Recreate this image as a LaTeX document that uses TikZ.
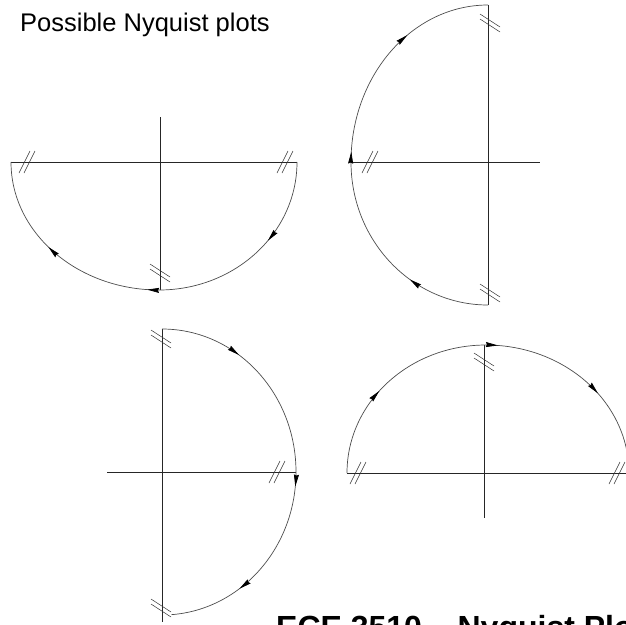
\documentclass[tikz,border=0pt]{standalone}
\usepackage{fontspec}
\setmainfont{Liberation Sans}
\usetikzlibrary{arrows.meta,decorations.markings}
\tikzset{
  axis/.style={draw=black!85, line width=0.7pt},
  curve/.style={draw=black!70, line width=0.7pt},
  brk/.style={draw=black!80, line width=0.5pt},
  dirat/.style={postaction={decorate, decoration={markings,
      mark=at position #1 with {\arrow[black]{Stealth[length=12pt,width=5pt,inset=1pt]}}}}},
  hbreak/.pic={\draw[brk] (-8,-11) -- (3,11); \draw[brk] (-3,-11) -- (8,11);},
  vbreak/.pic={\draw[brk] (-10,9) -- (10,-4); \draw[brk] (-10,4) -- (10,-9);},
  title/.style={font=\fontsize{25.5}{30}\selectfont, anchor=base west, inner sep=0pt},
  footer/.style={font=\bfseries\fontsize{32}{38}\selectfont, anchor=base west, inner sep=0pt}
}
\begin{document}
\begin{tikzpicture}[x=1pt, y=1pt]
\clip (0,0) rectangle (626,-624);
\node[title] (head) at (20,-31) {Possible Nyquist plots};
\node[footer] (foot) at (276,-638) {ECE 3510 -- Nyquist Plots};

% upper left
\coordinate (r1) at (297,-162);
\coordinate (l1) at (11,-162);
\draw[axis] (l1) -- (r1);
\draw[axis] (160,-117) -- (160,-290);
\draw[curve, dirat=0.41] (r1) arc[start angle=0, end angle=-90, x radius=138, y radius=128] coordinate (b1);
\draw[curve, dirat=0.055, dirat=0.56] (b1) arc[start angle=270, end angle=180, x radius=148, y radius=128];
\pic at (27,-162) {hbreak};
\pic at (285,-162) {hbreak};
\pic at (160,-273) {vbreak};

% upper right
\coordinate (t2) at (488,-5);
\coordinate (b2) at (488,-305);
\draw[axis] (t2) -- (b2);
\draw[axis] (351,-162) -- (540,-162);
\draw[curve, dirat=0.38] (b2) arc[start angle=270, end angle=180, x radius=137, y radius=143] coordinate (l2);
\draw[curve, dirat=0.045, dirat=0.62] (l2) arc[start angle=180, end angle=90, x radius=137, y radius=157];
\pic at (490,-23) {vbreak};
\pic at (490,-293) {vbreak};
\pic at (370,-162) {hbreak};

% lower left
\coordinate (t3) at (162,-329);
\draw[axis] (t3) -- (162,-622);
\draw[axis] (107,-472) -- (296,-472);
\draw[curve, dirat=0.38] (t3) arc[start angle=90, end angle=0, x radius=134, y radius=143] coordinate (r3);
\draw[curve, dirat=0.07, dirat=0.645] (r3) arc[start angle=0, end angle=-86, x radius=134, y radius=143];
\pic at (161,-339) {vbreak};
\pic at (161,-608) {vbreak};
\pic at (277,-472) {hbreak};

% lower right
\coordinate (l4) at (347,-473);
\draw[axis] (l4) -- (630,-473);
\draw[axis] (484,-345) -- (484,-518);
\draw[curve, dirat=0.43] (l4) arc[start angle=180, end angle=90, x radius=139, y radius=128] coordinate (t4);
\draw[curve, dirat=0.053, dirat=0.56] (t4) arc[start angle=90, end angle=-5, x radius=143, y radius=128];
\pic at (484,-362) {vbreak};
\pic at (358,-473) {hbreak};
\pic at (617,-473) {hbreak};
\end{tikzpicture}
\end{document}
